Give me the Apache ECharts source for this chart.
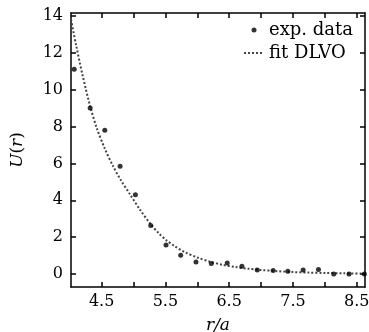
<!DOCTYPE html>
<html><head><meta charset="utf-8">
<script src="https://cdn.jsdelivr.net/npm/echarts@6/dist/echarts.min.js"></script>
<style>html,body{margin:0;padding:0;background:#fff}#c{width:369px;height:332px}</style>
</head><body><div id="c"></div>
<script>
const expR = [4.07,4.32,4.55,4.79,5.03,5.27,5.51,5.74,5.98,6.22,6.47,6.70,6.94,7.19,7.42,7.66,7.90,8.14,8.38,8.62];
const expU = [11.1,9.0,7.8,5.85,4.3,2.63,1.58,1.02,0.65,0.58,0.6,0.43,0.22,0.2,0.16,0.22,0.25,0.0,0.0,0.0];
const fitR = [4.02,4.1,4.2,4.32,4.43,4.55,4.68,4.8,4.94,5.1,5.27,5.4,5.51,5.65,5.8,6.0,6.2,6.4,6.6,6.8,7.0,7.25,7.5,7.75,8.0,8.3,8.62];
const fitU = [13.8,12.4,10.8,9.1,7.85,6.8,5.85,5.1,4.35,3.5,2.7,2.2,1.85,1.5,1.2,0.9,0.67,0.5,0.38,0.29,0.22,0.16,0.11,0.08,0.06,0.04,0.03];
const xTicks = [4.5,5.0,5.5,6.0,6.5,7.0,7.5,8.0,8.5];
const xLabels = [4.5,5.5,6.5,7.5,8.5];
const yTicks = [0,2,4,6,8,10,12,14];
const names = ['exp. data','fit DLVO'];

const font = 'DejaVu Serif';
const chart = echarts.init(document.getElementById('c'), null, {renderer:'canvas'});
const axLine = {show:true, onZero:false, lineStyle:{color:'#000', width:1.5}};
const tickSt = {inside:true, length:5, lineStyle:{color:'#000', width:1.5}};
chart.setOption({
  animation:false,
  backgroundColor:'#fff',
  grid:{left:71, right:4, top:13, bottom:45, containLabel:false, outerBoundsMode:'none'},
  legend:{
    orient:'vertical', right:16, top:21, padding:0, itemGap:5,
    itemWidth:20, itemHeight:5,
    textStyle:{fontFamily:font, fontSize:18, color:'#000'},
    data:[{name:names[0]},{name:names[1], itemStyle:{color:'rgba(0,0,0,0)', borderWidth:0, opacity:0}}]
  },
  xAxis:[{
    type:'value', min:4.02, max:8.63, position:'bottom',
    axisLine:axLine, splitLine:{show:false},
    axisTick:Object.assign({customValues:xTicks}, tickSt),
    axisLabel:{customValues:xLabels, fontFamily:font, fontSize:16, color:'#000', margin:7,
      formatter:v=>v.toFixed(1)},
    name:'r/a', nameLocation:'middle', nameGap:30,
    nameTextStyle:{fontFamily:font, fontSize:17, fontStyle:'italic', color:'#000'}
  },{
    type:'value', min:4.02, max:8.63, position:'top',
    axisLine:axLine, splitLine:{show:false},
    axisTick:Object.assign({customValues:xTicks}, tickSt),
    axisLabel:{show:false}
  }],
  yAxis:[{
    type:'value', min:-0.7, max:14.15, position:'left',
    axisLine:axLine, splitLine:{show:false},
    axisTick:Object.assign({customValues:yTicks}, tickSt),
    axisLabel:{customValues:yTicks, fontFamily:font, fontSize:16, color:'#000', margin:8},
    name:'{i|U}({i|r})', nameLocation:'middle', nameGap:45, nameRotate:90,
    nameTextStyle:{fontFamily:font, fontSize:17, color:'#000',
      rich:{i:{fontFamily:font, fontSize:17, fontStyle:'italic', color:'#000'}}}
  },{
    type:'value', min:-0.7, max:14.15, position:'right',
    axisLine:axLine, splitLine:{show:false},
    axisTick:Object.assign({customValues:yTicks}, tickSt),
    axisLabel:{show:false}
  }],
  series:[{
    name:names[0], type:'scatter', symbol:'circle', symbolSize:5,
    itemStyle:{color:'#000'},
    data:expR.map((r,i)=>[r,expU[i]]), z:3
  },{
    name:names[1], type:'line', symbol:'none', smooth:0.3,
    lineStyle:{color:'#444', width:2, type:'dotted'},
    itemStyle:{color:'#444'},
    data:fitR.map((r,i)=>[r,fitU[i]]), z:2
  }]
});
</script></body></html>
